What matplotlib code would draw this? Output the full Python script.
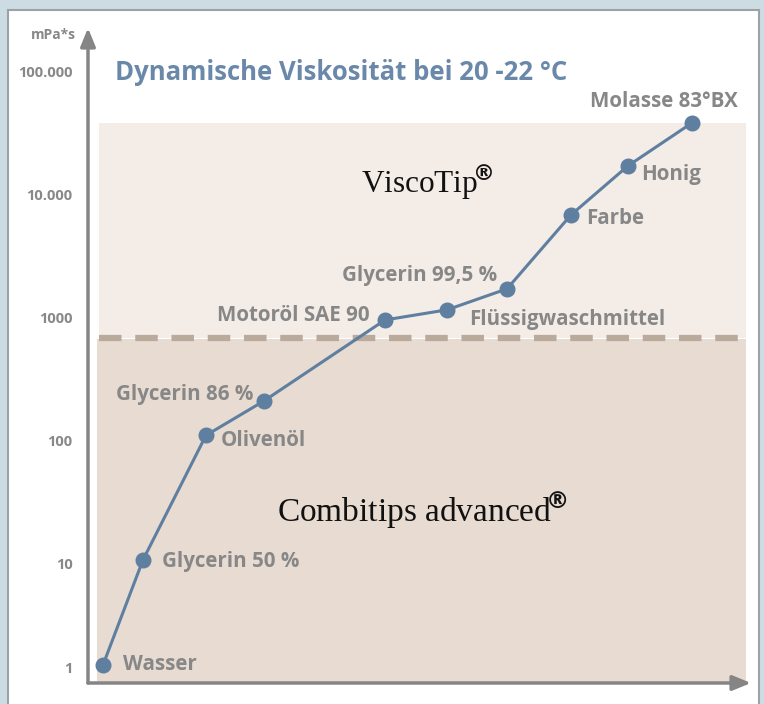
import numpy as np
import matplotlib
matplotlib.use("Agg")
import matplotlib.pyplot as plt
from matplotlib.patches import Rectangle
from matplotlib.transforms import ScaledTranslation

# ---- data ----
names = ["Wasser", "Glycerin 50 %", "Olivenöl", "Glycerin 86 %", "Motoröl SAE 90",
         "Flüssigwaschmittel", "Glycerin 99,5 %", "Farbe", "Honig", "Molasse 83°BX"]
x_pos = [15, 55, 118, 176, 297, 359, 419, 483, 540, 604]
viscosity = [1, 10.2, 105, 200, 910, 1100, 1630, 6500, 16300, 36400]
ytick_vals = [1, 10, 100, 1000, 10000, 100000]
ytick_labels = ["1", "10", "100", "1000", "10.000", "100.000"]
visco_zone = (650, 36400)      # VisoTip range
combi_zone = (0.671, 650)      # Combitips advanced range

# label offsets (pixels) and alignment
lab_off = [(20, 0), (19, -2), (15, -5), (-11, 6), (-15, 4),
           (22, -10), (-10, 13), (15, -4), (13, -9), (46, 21)]
lab_ha = ["left", "left", "left", "right", "right",
          "left", "right", "left", "left", "right"]

W, H = 764, 704
fig = plt.figure(figsize=(W / 100, H / 100), dpi=100)
fig.patch.set_facecolor("#cddce3")
panel = Rectangle((8 / W, -0.05), (759 - 8) / W, 1.05 - 10 / H, transform=fig.transFigure,
                  facecolor="white", edgecolor="#9aa3a8", linewidth=1.5, zorder=-10)
fig.patches.append(panel)

ax = fig.add_axes([88 / W, (H - 683) / H, 663 / W, 655 / H])
ax.set_facecolor("none")
ax.set_zorder(5)

k = 104 / 123
def fwd(v):
    v = np.asarray(v, float)
    L = np.log10(np.clip(v, 1e-12, None))
    return np.where(L >= 1, L, 1 - (1 - L) * k)
def inv(u):
    u = np.asarray(u, float)
    return np.where(u >= 1, 10 ** u, 10 ** (1 - (1 - u) / k))

ax.set_yscale("function", functions=(fwd, inv))
ax.set_ylim(0.671, 215000)
ax.set_xlim(0, 663)

# zones
ax.add_patch(Rectangle((11, visco_zone[0]), 647, visco_zone[1] - visco_zone[0],
                       facecolor="#f3ece7", edgecolor="none", zorder=1))
ax.add_patch(Rectangle((9, combi_zone[0]), 649, combi_zone[1] * 0.985 - combi_zone[0],
                       facecolor="#e7dbd2", edgecolor="none", zorder=1))
ax.plot([11, 658], [visco_zone[0], visco_zone[0]], color="#b9aa9c", lw=4.5,
        dashes=(3.6, 2.2), zorder=2, solid_capstyle="butt", dash_capstyle="butt")

# line + points
ax.plot(x_pos, viscosity, color="#5f7fa0", lw=2.2, marker="o", ms=10.5,
        markerfacecolor="#5f7fa0", markeredgecolor="#5f7fa0", zorder=5, clip_on=False)

lab_font = dict(family=["Open Sans", "DejaVu Sans"], fontweight="bold",
                color="#878787", fontsize=14.8)
for n, x, y, (dx, dy), ha in zip(names, x_pos, viscosity, lab_off, lab_ha):
    ax.annotate(n, (x, y), xytext=(dx, dy), textcoords="offset pixels",
                ha=ha, va="center", zorder=6, **lab_font)

# zone titles
serif = ["Liberation Serif", "DejaVu Serif"]
ax.text(0.512, 0.763, "ViscoTip$\\!^{\\mathbf{®}}$", transform=ax.transAxes, ha="center",
        va="center", family=serif, fontsize=22.5, color="#111111", zorder=6)
ax.text(0.504, 0.264, "Combitips advanced$\\!^{\\mathbf{®}}$", transform=ax.transAxes,
        ha="center", va="center", family=serif, fontsize=24, color="#111111", zorder=6)

# title
ax.text((115 - 88) / 663, (683 - 73) / 655, "Dynamische Viskosität bei 20 -22 °C",
        transform=ax.transAxes, ha="left", va="center", color="#6a88a9", fontsize=18.5,
        family=["Open Sans", "DejaVu Sans"], fontweight="bold")

# axes & ticks
for s in ax.spines.values():
    s.set_visible(False)
ax.set_xticks([])
ax.set_yticks(ytick_vals)
ax.set_yticklabels(ytick_labels)
ax.yaxis.set_minor_locator(matplotlib.ticker.NullLocator())
ax.tick_params(axis="y", length=0, pad=11, labelsize=10.5, labelcolor="#888888")
off = ScaledTranslation(0, -3 / 100, fig.dpi_scale_trans)
for lab in ax.get_yticklabels():
    lab.set_fontweight("bold")
    lab.set_family(["Open Sans", "DejaVu Sans"])
    lab.set_transform(lab.get_transform() + off)
ax.text(-12 / 663, (683 - 35) / 655, "mPa*s", transform=ax.transAxes, ha="right", va="center",
        fontsize=10, fontweight="bold", color="#888888", family=["Open Sans", "DejaVu Sans"])

axis_col = "#858585"
ax.annotate("", xy=(0, 1), xytext=(0, 0), xycoords="axes fraction",
            arrowprops=dict(arrowstyle="-|>,head_length=1.1,head_width=0.45", color=axis_col,
                            lw=2.5, shrinkA=0, shrinkB=0), zorder=7, annotation_clip=False)
ax.annotate("", xy=(1, 0), xytext=(0, 0), xycoords="axes fraction",
            arrowprops=dict(arrowstyle="-|>,head_length=1.1,head_width=0.45", color=axis_col,
                            lw=2.5, shrinkA=0, shrinkB=0), zorder=7, annotation_clip=False)

fig.savefig("out.png", dpi=100, facecolor=fig.get_facecolor())
